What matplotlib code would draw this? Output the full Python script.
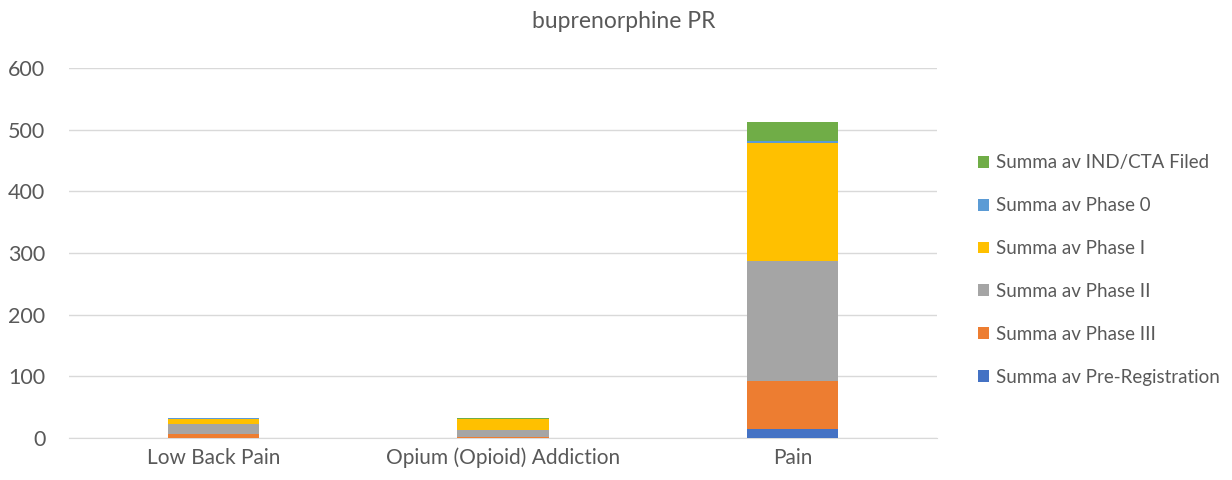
import numpy as np
import matplotlib.pyplot as plt

plt.rcParams['font.family'] = ['Lato', 'DejaVu Sans']

categories = ["Low Back Pain", "Opium (Opioid) Addiction", "Pain"]
series = ["Summa av Pre-Registration", "Summa av Phase III", "Summa av Phase II",
          "Summa av Phase I", "Summa av Phase 0", "Summa av IND/CTA Filed"]
pre_reg = [0, 0, 14]
phase3 = [7, 1, 79]
phase2 = [16, 12, 194]
phase1 = [8, 18, 192]
phase0 = [2, 0, 2]
ind_cta = [0, 2, 31]
values = [pre_reg, phase3, phase2, phase1, phase0, ind_cta]
colors = ["#4472C4", "#ED7D31", "#A5A5A5", "#FFC000", "#5B9BD5", "#70AD47"]

fig = plt.figure(figsize=(12.32, 4.8), dpi=100)
ax = fig.add_axes([0.056, 0.0875, 0.7046, 0.7708])

x = np.arange(len(categories))
bottom = np.zeros(len(categories))
handles = []
for name, vals, c in zip(series, values, colors):
    h = ax.bar(x, vals, 0.315, bottom=bottom, color=c, label=name, zorder=3)
    handles.append(h)
    bottom += np.array(vals)

ax.set_xlim(-0.5, 2.5)
ax.set_ylim(0, 600)
ax.set_yticks(range(0, 601, 100))
ax.set_xticks(x)
ax.set_xticklabels(categories)
ax.grid(axis='y', color='#D9D9D9', linewidth=1, zorder=0)
for s in ['top', 'right', 'left']:
    ax.spines[s].set_visible(False)
ax.spines['bottom'].set_color('#D9D9D9')
ax.tick_params(axis='both', length=0, labelsize=15, colors='#595959', pad=7)
ax.tick_params(axis='y', labelsize=15.5, pad=17)

fig.text(0.506, 0.955, "buprenorphine PR", ha='center', va='center', fontsize=16.5, color='#595959')

fig.legend(handles[::-1], series[::-1], loc='center left', bbox_to_anchor=(0.7875, 0.4375),
           frameon=False, fontsize=13.5, labelcolor='#595959', handlelength=0.6, handleheight=0.6,
           handletextpad=0.35, labelspacing=1.38, borderaxespad=0)

fig.savefig("out.png", dpi=100)
